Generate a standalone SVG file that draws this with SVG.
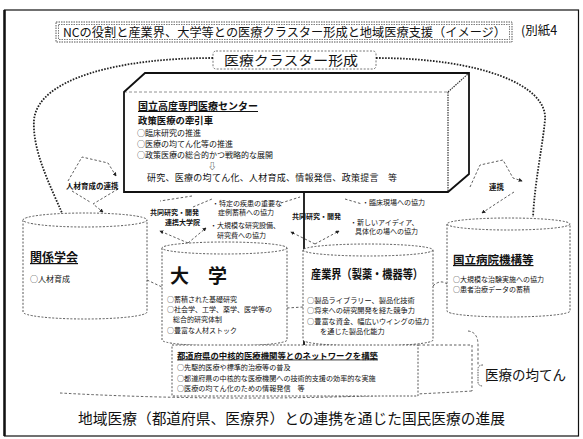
<svg xmlns="http://www.w3.org/2000/svg" width="583" height="439" viewBox="0 0 583 439">
<defs>
<style>
.t{font-family:"Noto Sans CJK JP","Noto Sans CJK SC",sans-serif;fill:#111}
.b{font-weight:bold}
.u{text-decoration:underline}
.dash{fill:none;stroke:#333;stroke-width:0.8;stroke-dasharray:2.5 2}
.dot{fill:none;stroke:#222;stroke-width:1.8;stroke-dasharray:1.6 1.4}
.cyl{fill:#fff;stroke:#444;stroke-width:0.9;stroke-dasharray:2 1.6}
</style>
<marker id="ah" viewBox="0 0 6 6" refX="5" refY="3" markerWidth="5" markerHeight="5" orient="auto">
<path d="M0,0 L6,3 L0,6 Z" fill="#222"/>
</marker>
</defs>
<rect width="583" height="439" fill="#fff"/>
<rect x="4.5" y="10" width="574" height="426" fill="none" stroke="#111" stroke-width="1.2"/>
<line x1="4.5" y1="10" x2="4.5" y2="436" stroke="#111" stroke-width="2.5"/>

<g id="title">
<rect x="56" y="22" width="456" height="20" fill="none" stroke="#444" stroke-width="0.9" stroke-dasharray="1.5 1"/>
<rect x="58.5" y="24.5" width="451" height="15" fill="none" stroke="#444" stroke-width="0.7" stroke-dasharray="1.5 1"/>
<text class="t" x="63" y="36.5" font-size="12.3" textLength="443" lengthAdjust="spacingAndGlyphs">NCの役割と産業界、大学等との医療クラスター形成と地域医療支援（イメージ）</text>
<text class="t" x="521" y="35" font-size="12.5">(別紙4</text>
</g>

<g id="cluster-label">
<rect x="213" y="51" width="163" height="18" rx="3" fill="#fff" stroke="#555" stroke-width="0.8" stroke-dasharray="2 1.5"/>
<text class="t" x="224" y="64.5" font-size="13" textLength="134" lengthAdjust="spacingAndGlyphs">医療クラスター形成</text>
</g>

<g id="connectors">
<path class="dot" d="M213,58 C120,58 38,78 34,120 C32,150 50,185 62,213"/>
<path class="dot" d="M376,58 C480,58 548,85 545,120 C542,150 535,180 533,217"/>
<path class="dash" d="M68,181 L82,157 L108,163 L116,176" marker-end="url(#ah)"/>
<path class="dash" d="M118,189 L93,204 L103,212" marker-end="url(#ah)"/>
<path class="dash" d="M72,191 L90,202"/>
<path class="dash" d="M470,187 L480,165 L503,160 L513,178 L522,181" marker-end="url(#ah)"/>
<path class="dash" d="M514,192 L494,205 L482,213" marker-end="url(#ah)"/>
<path class="dash" d="M192,196 L160,201"/>
<path class="dash" d="M188,243 L160,231" marker-end="url(#ah)"/>
<path class="dash" d="M188,243 L206,228" marker-end="url(#ah)"/>
<path class="dash" d="M193,207 L212,199"/>
<path class="dash" d="M281,203 L300,197"/>
<path class="dash" d="M345,199 L362,204"/>
<path class="dash" d="M315,244 L291,232" marker-end="url(#ah)"/>
<path class="dash" d="M315,244 L339,231" marker-end="url(#ah)"/>
<line x1="304" y1="193" x2="304" y2="345" stroke="#111" stroke-width="1.8"/>
<path class="dash" d="M147,280 L162,287"/>
<path class="dash" d="M287,308 L303,307"/>
<path class="dash" d="M433,286 Q440,279 447,284"/>
<path class="dash" d="M468,331 Q478,332 478,345 L478,365"/>
<path class="dash" d="M60,393 Q260,404 472,391"/>
<path class="dash" d="M418,345 L472,345 L472,391"/>
</g>

<g id="nc">
<path d="M124,92 L145,73 L469,73 L448,92 Z" fill="#fff" stroke="none"/>
<path d="M448,92 L469,73 L469,174 L448,192 Z" fill="#fff" stroke="none"/>
<rect x="124" y="92" width="324" height="100" fill="#fff"/>
<line x1="124" y1="92" x2="448" y2="92" stroke="#777" stroke-width="0.8" stroke-dasharray="3 2"/>
<path d="M448,92 L469,73 M448,92 L448,192" fill="none" stroke="#333" stroke-width="1.2" stroke-dasharray="1.5 1"/>
<path d="M124,192 L124,92 L145,73 L469,73 L469,174 L448,192 Z" fill="none" stroke="#111" stroke-width="1.8"/>
<text class="t b u" x="138" y="110" font-size="10">国立高度専門医療センター</text>
<text class="t b" x="138" y="124.3" font-size="9.4">政策医療の牽引車</text>
<text class="t" x="137" y="136.2" font-size="8">○臨床研究の推進</text>
<text class="t" x="137" y="147" font-size="8">○医療の均てん化等の推進</text>
<text class="t" x="137" y="157.8" font-size="8">○政策医療の総合的かつ戦略的な展開</text>
<text class="t" x="208" y="168.5" font-size="8.5">⇩</text>
<text class="t" x="147" y="181" font-size="9" textLength="250" lengthAdjust="spacing">研究、医療の均てん化、人材育成、情報発信、政策提言　等</text>
</g>

<g id="arrow-labels">
<text class="t b" x="150" y="215" font-size="7">共同研究・開発</text>
<text class="t b" x="165" y="224.5" font-size="7">連携大学院</text>
<text class="t" x="212" y="206" font-size="7">・特定の疾患の重要な</text>
<text class="t" x="218" y="215" font-size="7">症例蓄積への協力</text>
<text class="t" x="210" y="228" font-size="7">・大規模な研究設備、</text>
<text class="t" x="217" y="237.5" font-size="7">研究費への協力</text>
<text class="t" x="362" y="205" font-size="7">・臨床現場への協力</text>
<text class="t b" x="292" y="219" font-size="7">共同研究・開発</text>
<text class="t" x="350" y="225" font-size="7">・新しいアイディア、</text>
<text class="t" x="355" y="234" font-size="7">具体化の場への協力</text>
<text class="t b" x="66" y="189" font-size="7.5">人材育成の連携</text>
<text class="t b" x="489" y="190" font-size="7.5">連携</text>
</g>

<g id="gakkai">
<path class="cyl" d="M23,220 L23,312 A62,7 0 0 0 147,312 L147,220"/>
<ellipse class="cyl" cx="85" cy="220" rx="62" ry="7"/>
<text class="t b u" x="30" y="262" font-size="12">関係学会</text>
<text class="t" x="30" y="282" font-size="8">○人材育成</text>
</g>

<g id="daigaku">
<path class="cyl" d="M162,248 L162,340 A62.5,6 0 0 0 287,340 L287,248"/>
<ellipse class="cyl" cx="224.5" cy="248" rx="62.5" ry="6"/>
<text class="t b" x="170" y="283" font-size="19">大　学</text>
<text class="t" x="167" y="302" font-size="7">○蓄積された基礎研究</text>
<text class="t" x="167" y="312.2" font-size="7">○社会学、工学、薬学、医学等の</text>
<text class="t" x="173" y="322.4" font-size="7">総合的研究体制</text>
<text class="t" x="167" y="332.6" font-size="7">○豊富な人材ストック</text>
</g>

<g id="sangyo">
<path class="cyl" d="M303,250 L303,340 A65,6 0 0 0 433,340 L433,250"/>
<ellipse class="cyl" cx="368" cy="250" rx="65" ry="6"/>
<text class="t b" x="311" y="279" font-size="12.5" textLength="112" lengthAdjust="spacingAndGlyphs">産業界（製薬・機器等）</text>
<text class="t" x="307" y="302.5" font-size="7.2">○製品ライブラリー、製品化技術</text>
<text class="t" x="307" y="313" font-size="7.2">○将来への研究開発を経た競争力</text>
<text class="t" x="307" y="323.5" font-size="7.2">○豊富な資金、幅広いウイングの協力</text>
<text class="t" x="320" y="334" font-size="7.2">を通じた製品化能力</text>
</g>

<g id="kokuritsu">
<path class="cyl" d="M447,224 L447,311 A61.5,6 0 0 0 570,311 L570,224"/>
<ellipse class="cyl" cx="508.5" cy="224" rx="61.5" ry="6"/>
<text class="t b u" x="453" y="264" font-size="11.5">国立病院機構等</text>
<text class="t" x="453" y="282" font-size="7">○大規模な治験実施への協力</text>
<text class="t" x="453" y="292.2" font-size="7">○患者治療データの蓄積</text>
</g>

<g id="network">
<rect x="172" y="345" width="246" height="51" fill="#fff" stroke="#444" stroke-width="0.9" stroke-dasharray="2 1.6"/>
<text class="t b u" x="177" y="358.5" font-size="8.4">都道府県の中核的医療機関等とのネットワークを構築</text>
<text class="t" x="177" y="370" font-size="7.1">○先駆的医療や標準的治療等の普及</text>
<text class="t" x="177" y="380.5" font-size="7.1">○都道府県の中核的な医療機関への技術的支援の効率的な実施</text>
<text class="t" x="177" y="391" font-size="7.1">○医療の均てん化のための情報発信　等</text>
</g>

<g id="kinten">
<path d="M483,365 Q478,365 478,369 L478,382 Q478,386 483,386" fill="none" stroke="#444" stroke-width="0.9" stroke-dasharray="1.5 1"/>
<text class="t" x="485" y="380" font-size="13.5">医療の均てん</text>
</g>

<g id="bottom">
<text class="t" x="78" y="424" font-size="14.5" textLength="427" lengthAdjust="spacingAndGlyphs">地域医療（都道府県、医療界）との連携を通じた国民医療の進展</text>
</g>
</svg>
